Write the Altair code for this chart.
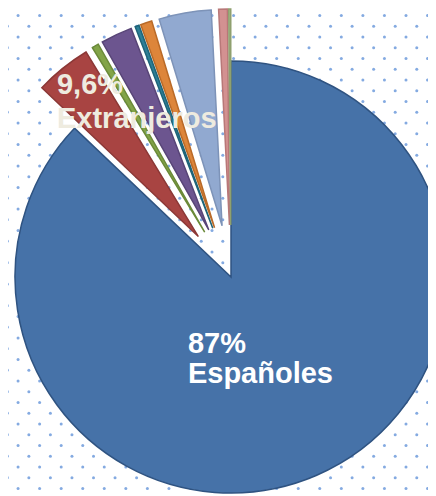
import math
import altair as alt
import pandas as pd

# ---- data ----
categories = ["Españoles", "Extranjeros", "Grupo 3", "Grupo 4", "Grupo 5",
              "Grupo 6", "Grupo 7", "Grupo 8", "Grupo 9"]
values = [87.1, 4.2, 0.5, 2.35, 0.3, 0.85, 3.9, 0.65, 0.15]
exploded = [0, 1, 1, 1, 1, 1, 1, 1, 1]
fills = ["#4672A8", "#A84442", "#82A448", "#6C558F", "#2C7F97",
         "#DD853A", "#91A9D0", "#D39191", "#A8BD87"]
strokes = ["#2F5381", "#8C3836", "#6B8A39", "#584577", "#1E6478",
           "#B96A28", "#7D93B8", "#B87878", "#8FA06F"]
label_texts = ["87%\nEspañoles", "9,6%\nExtranjeros"]
label_slices = ["Españoles", "Extranjeros"]

# ---- layout / style ----
W, H = 420, 488
CX, CY = 223, 269
R = 216
EXPLODE = 52

total = sum(values)
starts, ends = [], []
acc = 0.0
for v in values:
    starts.append(acc)
    acc += v
    ends.append(acc)

df = pd.DataFrame({"cat": categories, "value": values, "start": starts, "end": ends})
theta_scale = alt.Scale(domain=[0, total])

# dotted background texture
NC, NR = 21, 47
dots = (
    alt.Chart(alt.sequence(0, NC * NR, as_="i"))
    .transform_calculate(k=f"floor(datum.i / {NC})", j=f"datum.i % {NC}")
    .transform_calculate(px="-0.7 + 21.55*datum.j + (datum.k % 2)*10.78",
                         py="-3.3 + 10.75*datum.k")
    .mark_circle(size=9, color="#6F9BDC", opacity=0.85)
    .encode(x=alt.X("px:Q", scale=None, axis=None),
            y=alt.Y("py:Q", scale=None, axis=None))
)

layers = [dots]
for i, c in enumerate(categories):
    mid = (starts[i] + ends[i]) / 2 / total * 2 * math.pi
    ox = exploded[i] * EXPLODE * math.sin(mid)
    oy = -exploded[i] * EXPLODE * math.cos(mid)
    layers.append(
        alt.Chart(df)
        .transform_filter(alt.datum.cat == c)
        .mark_arc(x=CX + ox, y=CY + oy, radius=R, fill=fills[i],
                  stroke=strokes[i], strokeWidth=1.5)
        .encode(theta=alt.Theta("start:Q", scale=theta_scale), theta2="end:Q")
    )

lab_df = pd.DataFrame({
    "label": label_texts,
    "mid": [(starts[categories.index(s)] + ends[categories.index(s)]) / 2 for s in label_slices],
})

lab_styles = [
    dict(radius=86, dx=-77, dy=-3, lineHeight=30, color="#FFFFFF"),
    dict(radius=200, dx=-48.5, dy=-27.3, lineHeight=34, color="#EEEBDF"),
]
for i, st in enumerate(lab_styles):
    layers.append(
        alt.Chart(lab_df)
        .transform_filter(alt.datum.label == label_texts[i])
        .mark_text(x=CX, y=CY, align="left", baseline="alphabetic",
                   dx=st["dx"], dy=st["dy"], lineBreak="\n",
                   lineHeight=st["lineHeight"], fontSize=29, fontWeight="bold",
                   font="Liberation Sans", color=st["color"])
        .encode(theta=alt.Theta("mid:Q", scale=theta_scale),
                radius=alt.value(st["radius"]),
                text="label:N")
    )

chart = (
    alt.layer(*layers)
    .properties(width=W, height=H, autosize="none", padding=0,
                background="white")
    .configure_view(stroke=None)
)

chart.save("out.html", embed_options={"renderer": "svg", "actions": False})
